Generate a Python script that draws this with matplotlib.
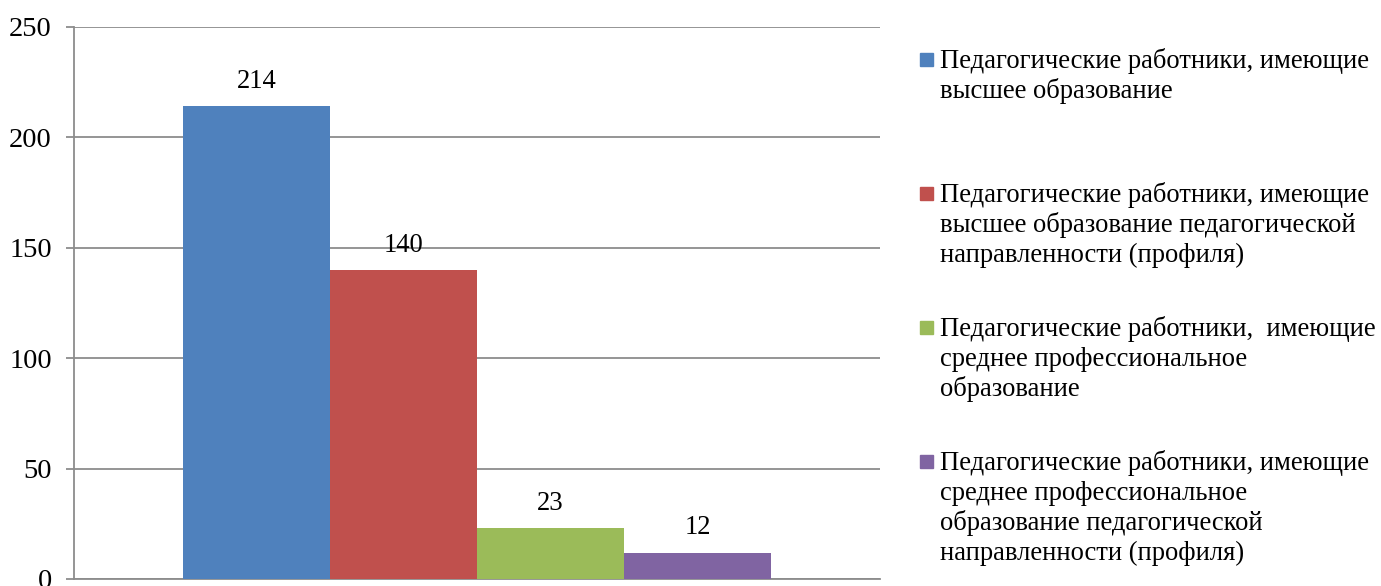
import matplotlib
matplotlib.use("Agg")
import matplotlib.pyplot as plt
from matplotlib.patches import Rectangle

plt.rcParams['font.family'] = ['Liberation Serif', 'DejaVu Serif']

series_labels = [
    "Педагогические работники, имеющие\nвысшее образование",
    "Педагогические работники, имеющие\nвысшее образование педагогической\nнаправленности (профиля)",
    "Педагогические работники,  имеющие\nсреднее профессиональное\nобразование",
    "Педагогические работники, имеющие\nсреднее профессиональное\nобразование педагогической\nнаправленности (профиля)",
]
values = [214, 140, 23, 12]
colors = ["#4F81BD", "#C0504D", "#9BBB59", "#8064A2"]
yticks = [0, 50, 100, 150, 200, 250]

FS = 19.2
W, H = 1381, 586
fig = plt.figure(figsize=(W / 100, H / 100), dpi=100)
ax = fig.add_axes([74 / W, 1 - 579 / H, (880 - 74) / W, (579 - 27) / H])

bw = 147 / 806
n = len(values)
for i, (v, c) in enumerate(zip(values, colors)):
    x = (i - (n - 1) / 2) * bw
    ax.bar(x, v, width=bw, color=c, zorder=3)
    ax.annotate(str(v), (x, v), xytext=(0, 13), textcoords='offset points',
                ha='center', va='baseline', fontsize=FS, zorder=4)

ax.set_xlim(-0.5, 0.5)
ax.set_ylim(0, 250)
ax.set_yticks(yticks)
ax.set_yticklabels([str(t) for t in yticks], fontsize=20.5)
ax.set_xticks([])
ax.yaxis.grid(True, color='#8C8C8C', linewidth=1.3, zorder=0)
for s in ['top', 'right']:
    ax.spines[s].set_visible(False)
for s in ['left', 'bottom']:
    ax.spines[s].set_color('#8C8C8C')
    ax.spines[s].set_linewidth(1.3)
ax.tick_params(axis='y', length=6, width=1.3, color='#8C8C8C', pad=10)

baselines = [68, 202, 336, 470]
line_h = 30
for lab, c, b0 in zip(series_labels, colors, baselines):
    fig.patches.append(Rectangle((920 / W, 1 - (b0 - 2) / H), 13 / W, 13 / H,
                                 transform=fig.transFigure, color=c))
    for j, line in enumerate(lab.split("\n")):
        fig.text(940 / W, 1 - (b0 + j * line_h) / H, line, ha='left',
                 va='baseline', fontsize=FS)

fig.savefig("out.png", dpi=100)
